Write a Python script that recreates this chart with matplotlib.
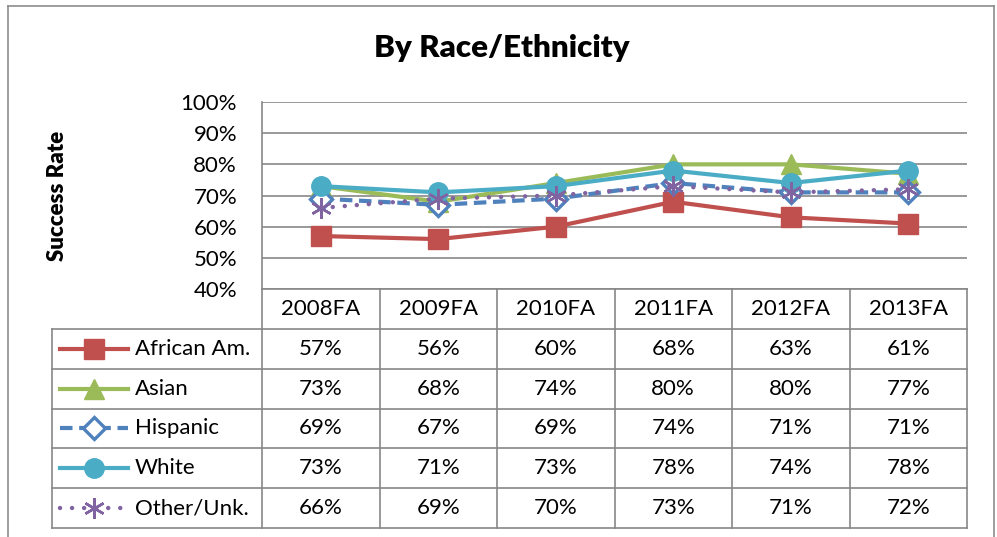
import matplotlib
matplotlib.use("Agg")
import matplotlib.pyplot as plt
from matplotlib.lines import Line2D

plt.rcParams['font.family'] = ['Lato', 'DejaVu Sans']

# --- data ---
terms = ["2008FA", "2009FA", "2010FA", "2011FA", "2012FA", "2013FA"]
groups = ["African Am.", "Asian", "Hispanic", "White", "Other/Unk."]
african_am = [57, 56, 60, 68, 63, 61]
asian = [73, 68, 74, 80, 80, 77]
hispanic = [69, 67, 69, 74, 71, 71]
white = [73, 71, 73, 78, 74, 78]
other_unk = [66, 69, 70, 73, 71, 72]
y_ticks = [40, 50, 60, 70, 80, 90, 100]

series = [african_am, asian, hispanic, white, other_unk]

# --- styles (Excel 2010 palette) ---
styles = [
    dict(color="#C0504D", marker="s", markersize=14, linestyle="-", lw=3,
         markerfacecolor="#C0504D", markeredgecolor="#C0504D"),
    dict(color="#9BBB59", marker="^", markersize=15, linestyle="-", lw=3,
         markerfacecolor="#9BBB59", markeredgecolor="#9BBB59"),
    dict(color="#4F81BD", marker="D", markersize=11, linestyle=(0, (3, 1.6)), lw=3,
         markerfacecolor="white", markeredgecolor="#4F81BD", markeredgewidth=2.4),
    dict(color="#4BACC6", marker="o", markersize=14, linestyle="-", lw=3,
         markerfacecolor="#4BACC6", markeredgecolor="#4BACC6"),
    dict(color="#8064A2", marker=(6, 2, 0), markersize=15, linestyle=(0, (0.01, 2.7)), lw=3.2,
         markerfacecolor="#8064A2", markeredgecolor="#8064A2", markeredgewidth=1.8,
         dash_capstyle="round"),
]

grid_c = "#878787"
fs = 16
W, H = 997, 537
fig = plt.figure(figsize=(W / 100, H / 100), dpi=100)

# outer chart frame (bottom edge falls outside the picture)
for xs, ys in [((8, 8), (6, H)), ((8, 994), (6, 6)), ((994, 994), (6, H))]:
    fig.add_artist(Line2D([x / W for x in xs], [1 - y / H for y in ys],
                          color="#8c8c8c", lw=1.2, transform=fig.transFigure))

# --- line chart ---
ax = fig.add_axes([262 / W, 1 - 289 / H, 705 / W, (289 - 102) / H])
x = list(range(len(terms)))
for vals, st in zip(series, styles):
    ax.plot(x, vals, clip_on=False, **st)
ax.set_xlim(-0.5, len(terms) - 0.5)
ax.set_ylim(40, 100)
ax.set_yticks(y_ticks)
ax.set_yticklabels([f"{v}%" for v in y_ticks], fontsize=fs)
ax.tick_params(axis="y", length=0, pad=18)
ax.set_xticks([])
ax.yaxis.grid(True, color=grid_c, lw=1.2)
ax.set_axisbelow(True)
for s in ["top", "right", "bottom"]:
    ax.spines[s].set_visible(False)
ax.spines["left"].set_color(grid_c)
ax.spines["left"].set_linewidth(1.2)

fig.text(502 / W, 1 - 48 / H, "By Race/Ethnicity", ha="center", va="center",
         fontsize=22.5, fontweight="heavy")
fig.text(58 / W, 1 - 196 / H, "Success Rate", ha="center", va="center",
         rotation=90, fontsize=16, fontweight="heavy")

# --- data table below ---
col_w = 117.5
lab_w = 210 / col_w
tx = fig.add_axes([52 / W, 1 - 528 / H, (967 - 52) / W, (528 - 289) / H])
x0 = -0.5 - lab_w
tx.set_xlim(x0, len(terms) - 0.5)
tx.set_ylim(len(groups) + 1, 0)
tx.axis("off")
lk = dict(color=grid_c, lw=1.2, clip_on=False)
tx.plot([-0.5, len(terms) - 0.5], [0, 0], **lk)
for r in range(1, len(groups) + 2):
    tx.plot([x0, len(terms) - 0.5], [r, r], **lk)
tx.plot([x0, x0], [1, len(groups) + 1], **lk)
for c in range(len(terms) + 1):
    tx.plot([c - 0.5, c - 0.5], [0, len(groups) + 1], **lk)

for c, t in enumerate(terms):
    tx.text(c, 0.5, t, ha="center", va="center", fontsize=fs)
for r, (name, vals, st) in enumerate(zip(groups, series, styles), start=1):
    kx0, kx1 = x0 + 8 / col_w, x0 + 76 / col_w
    tx.plot([kx0, (kx0 + kx1) / 2, kx1], [r + 0.5] * 3, markevery=[1],
            clip_on=False, **st)
    tx.text(x0 + 83 / col_w, r + 0.5, name, ha="left", va="center", fontsize=fs)
    for c, v in enumerate(vals):
        tx.text(c, r + 0.5, f"{v}%", ha="center", va="center", fontsize=fs)

fig.savefig("out.png", dpi=100)
